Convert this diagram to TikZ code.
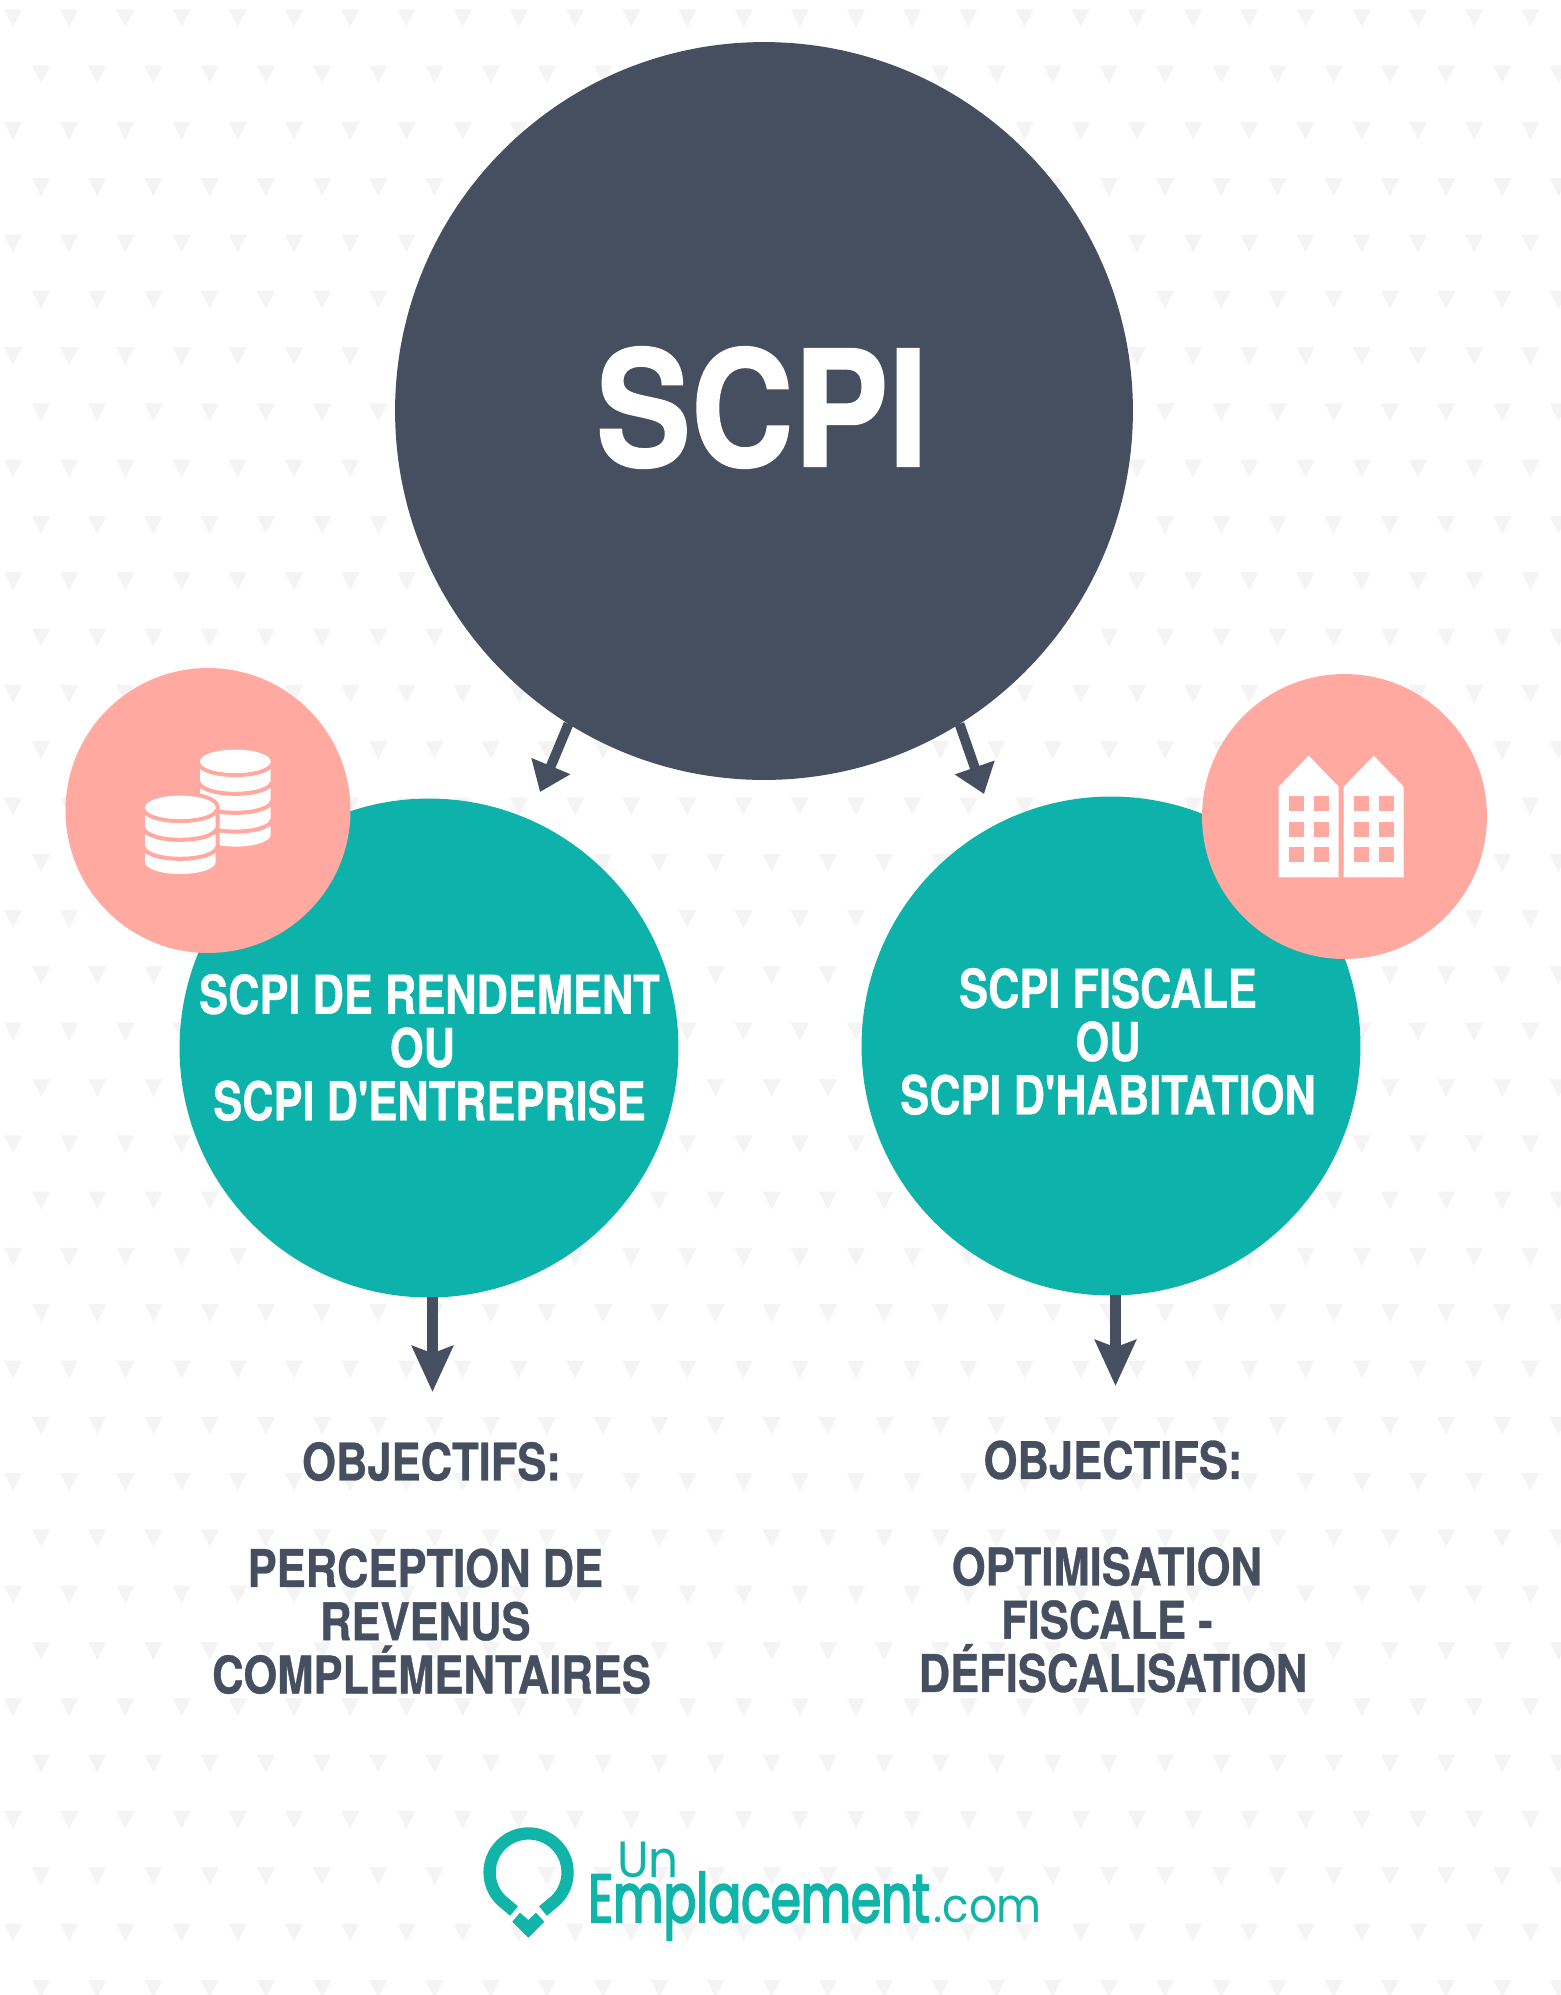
\documentclass[tikz,border=0pt]{standalone}
\usepackage{fontspec}
\usetikzlibrary{arrows.meta}
\setmainfont{Liberation Sans}
\newfontfamily\condfont[FakeStretch=0.81,FakeBold=0.6]{TeX Gyre Heros}
\newfontfamily\goalfont[FakeStretch=0.84,FakeBold=0.6]{TeX Gyre Heros}
\newfontfamily\titlefont[FakeStretch=0.88,FakeBold=1]{TeX Gyre Heros}
\newfontfamily\logoheavy[FakeStretch=0.71,FakeBold=2.5]{Poppins}
\newfontfamily\logolight[FakeStretch=0.92]{Poppins}
\definecolor{slatedark}{HTML}{454F60}
\definecolor{tealmain}{HTML}{0DB3AB}
\definecolor{pinksoft}{HTML}{FFA9A0}
\definecolor{motifgrey}{HTML}{F4F4F5}
\definecolor{logoteal}{HTML}{10B4A8}
\newcommand{\trail}[1]{\rule{#1}{0pt}}
% x, y, body height, pink levels
\newcommand{\coinstack}[4]{
\fill[white,draw=pinksoft,line width=4.5pt](#1-35.3,#2)--++(0,#3) arc[start angle=180,end angle=0,x radius=35.3,y radius=11.7]--++(0,-#3) arc[start angle=0,end angle=-180,x radius=35.3,y radius=11.7]--cycle;
\fill[white](#1-35.3,#2)--++(0,#3) arc[start angle=180,end angle=0,x radius=35.3,y radius=11.7]--++(0,-#3)--cycle;
\foreach \lev in {#4}
\draw[pinksoft,line width=2.3pt](#1-36.3,#2+\lev) arc[start angle=180,end angle=0,x radius=36.3,y radius=11.7];
\fill[white](#1,#2) ellipse[x radius=35.3,y radius=11.7];
}
\newcommand{\house}[2]{
\fill[white](#1,#2)--(#1,#2+90.6)--(#1+60,#2+90.6)--(#1+60,#2)--(#1+30,#2-31)--cycle;
\foreach \wx in {10,35.3}
\foreach \wy in {9.6,35,60.3}
\fill[pinksoft](#1+\wx,#2+\wy) rectangle ++(15,15);
}
\tikzset{
bigdisc/.style={circle,fill=slatedark,inner sep=0pt,outer sep=0pt,minimum size=14.76cm},
tealdisc/.style={circle,fill=tealmain,inner sep=0pt,outer sep=0pt,minimum size=9.98cm},
pinkdisc/.style={circle,fill=pinksoft,inner sep=0pt,outer sep=0pt,minimum size=5.7cm},
disctext/.style={text=white,align=center,inner sep=0pt,font=\condfont\bfseries\fontsize{30.5}{30.3}\selectfont},
goaltext/.style={text=slatedark,align=center,inner sep=0pt,font=\goalfont\bfseries\fontsize{29.5}{30.3}\selectfont},
slantarrow/.style={slatedark,line width=5.6pt,-{Triangle[length=16pt,width=23pt]}},
downarrow/.style={slatedark,line width=5.9pt,-{Stealth[length=26pt,width=23pt,inset=4pt]}},
logotext/.style={text=logoteal,inner sep=0pt,anchor=base west}
}
\begin{document}
\begin{tikzpicture}[x=0.02cm,y=-0.02cm]
\useasboundingbox (0,0) rectangle (1560,1995);
\fill[white] (0,0) rectangle (1560,1995);
% background motif
\foreach \row in {0,...,35}
\foreach \col in {0,...,27}{
\pgfmathsetmacro{\tx}{13+56.2*\col+28.1*mod(\row,2)}
\pgfmathsetmacro{\ty}{9.3+56.3*\row}
\fill[motifgrey](\tx-9,\ty)--(\tx+9,\ty)--(\tx,\ty+18)--cycle;
}
% discs
\node[bigdisc] (scpi) at (764,411) {};
\node[tealdisc] (rendement) at (429,1048) {};
\node[tealdisc] (fiscale) at (1111,1046) {};
\node[pinkdisc] (coins) at (208,810.5) {};
\node[pinkdisc] (houses) at (1344.5,816.5) {};
% arrows
\coordinate (tipa) at (540,792);
\coordinate (tipb) at (984,794);
\coordinate (tipc) at (432.5,1392);
\coordinate (tipd) at (1115.5,1386);
\draw[slantarrow] (scpi.238)--(tipa);
\draw[slantarrow] (scpi.302)--(tipb);
\draw[downarrow] (rendement.south -| tipc)--(tipc);
\draw[downarrow] (fiscale.south -| tipd)--(tipd);
% labels
\node[text=white,inner sep=0pt,font=\titlefont\bfseries\fontsize{92}{92}\selectfont] (scpilabel) at (762,407.5) {SCPI};
\node[disctext] (rendementlabel) at (429.5,1047.5) {SCPI DE RENDEMENT\\OU\trail{8pt}\\SCPI D'ENTREPRISE};
\node[disctext] (fiscalelabel) at (1108,1041.5) {SCPI FISCALE\\OU\\SCPI D'HABITATION};
\node[goaltext] (goalleft) at (431.5,1568) {OBJECTIFS:\\[30.3pt]PERCEPTION DE\trail{7pt}\\REVENUS\trail{7pt}\\COMPLÉMENTAIRES};
\node[goaltext] (goalright) at (1113,1566.5) {OBJECTIFS:\\[30.3pt]OPTIMISATION\trail{7pt}\\FISCALE -\trail{7pt}\\DÉFISCALISATION};
% icons
\coinstack{235.3}{761.3}{73.6}{2,20.8,39.8,58.6}
\coinstack{180.3}{807.3}{55}{2,20.8,39.8}
\house{1278.7}{786.7}
\house{1343.7}{786.7}
% logo
\draw[logoteal,line width=7pt] (514,1911)--(501,1900) arc[start angle=135,end angle=405,radius=39]--(543,1911);
\fill[logoteal] (512.3,1921.7)--(520,1912.7)--(528.3,1920)--(536,1912.7)--(544.3,1921.7)--(528.3,1937.7)--cycle;
\node[logotext,font=\logolight\fontsize{29}{29}\selectfont] (logoun) at (617,1877.7) {Un};
\node[logotext,font=\logoheavy\fontsize{39}{39}\selectfont] (logoname) at (588,1922.3) {Emplacement};
\node[logotext,font=\logolight\fontsize{27}{27}\selectfont] (logocom) at (933,1922.8) {.com};
\end{tikzpicture}
\end{document}
